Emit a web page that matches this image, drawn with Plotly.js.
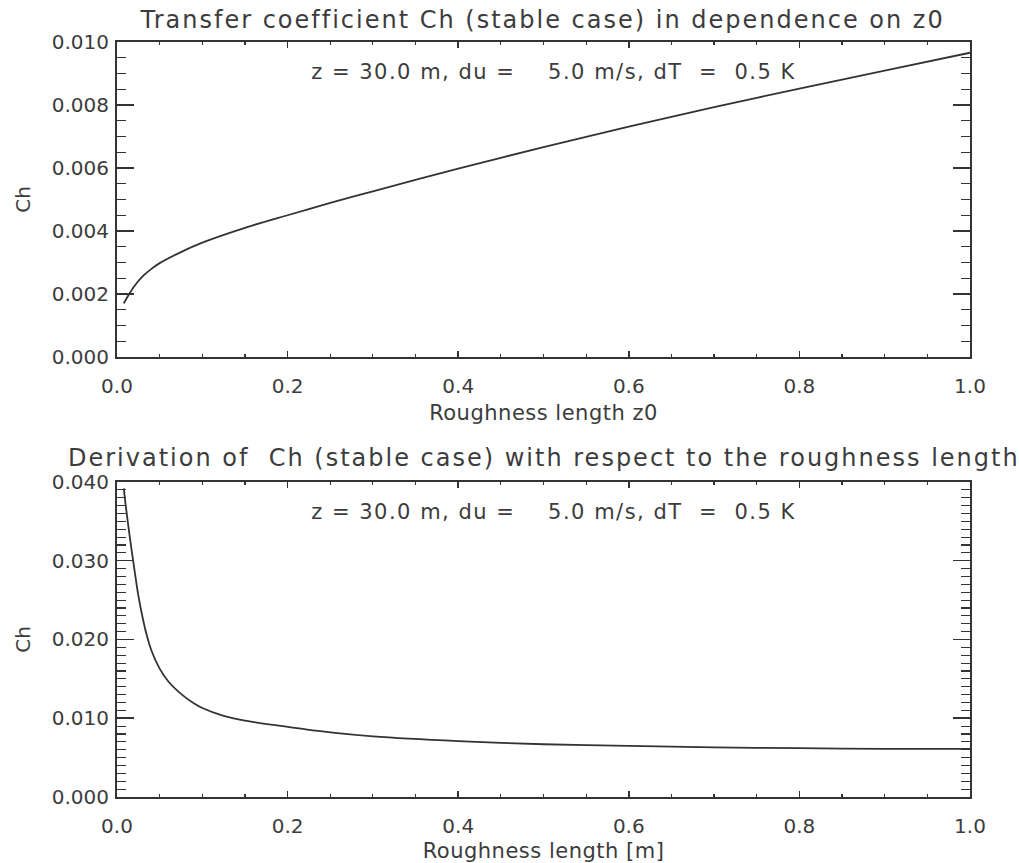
<!DOCTYPE html>
<html>
<head>
<meta charset="utf-8">
<script src="https://cdn.plot.ly/plotly-3.0.1.min.js"></script>
<style>
  html, body { margin: 0; padding: 0; background: #fff; }
  #chart { width: 1019px; height: 863px; }
  /* wide, evenly spaced lettering for the titles and the parameter lines */
  .gtitle { letter-spacing: 2px; }
  .annotation[data-index="0"] text { letter-spacing: 2px; }
  .annotation[data-index="1"] text,
  .annotation[data-index="2"] text { letter-spacing: 1.5px; }
  .xtitle, .x2title { letter-spacing: 0.5px; }
</style>
</head>
<body>
<div id="chart"></div>
<script>
// Transfer coefficient Ch against roughness length z0
const z0Top = [0.008, 0.01, 0.015, 0.02, 0.03, 0.04, 0.05, 0.075, 0.1, 0.15, 0.2, 0.25, 0.3, 0.4, 0.5, 0.6, 0.7, 0.8, 0.9, 1.0];
const chTop = [0.00170, 0.00180, 0.00203, 0.00224, 0.00256, 0.00279, 0.00298, 0.00333, 0.00363, 0.00410, 0.00450, 0.00489, 0.00526, 0.00598, 0.00666, 0.00731, 0.00793, 0.00852, 0.00909, 0.00966];

// Derivative of Ch with respect to the roughness length
const z0Bottom = [0.008, 0.01, 0.015, 0.02, 0.025, 0.03, 0.035, 0.04, 0.05, 0.06, 0.075, 0.09, 0.1, 0.125, 0.15, 0.2, 0.25, 0.3, 0.4, 0.5, 0.6, 0.7, 0.8, 0.9, 1.0];
const dchBottom = [0.0392, 0.0372, 0.0330, 0.0292, 0.0256, 0.0228, 0.0205, 0.0187, 0.0163, 0.0147, 0.0131, 0.0119, 0.0113, 0.0103, 0.0097, 0.0089, 0.0082, 0.0077, 0.0071, 0.0067, 0.0065, 0.0063, 0.0062, 0.0061, 0.0061];

const topTitle = 'Transfer coefficient Ch (stable case) in dependence on z0';
const bottomTitle = 'Derivation of \u00a0Ch (stable case) with respect to the roughness length';
const paramText = 'z = 30.0 m, du = \u00a0\u00a0\u00a05.0 m/s, dT \u00a0= \u00a00.5 K';
const xTitleTop = 'Roughness length z0';
const xTitleBottom = 'Roughness length [m]';
const yTitle = 'Ch';

const ink = '#333333';
const textInk = '#3c3c3c';
const fam = 'DejaVu Sans, Liberation Sans, sans-serif';

function xAxis(anchor, title) {
  return {
    anchor: anchor,
    domain: [0, 1],
    range: [0, 1],
    dtick: 0.2,
    tick0: 0,
    tickformat: '.1f',
    ticks: 'inside',
    ticklen: 6,
    tickwidth: 1.5,
    tickcolor: ink,
    minor: { dtick: 0.05, ticks: 'inside', ticklen: 3, tickwidth: 1.2, tickcolor: ink },
    showline: true,
    linewidth: 2,
    linecolor: ink,
    mirror: 'allticks',
    showgrid: false,
    zeroline: false,
    ticklabelstandoff: 10,
    tickfont: { family: fam, size: 20, color: textInk },
    title: { text: title, standoff: 8, font: { family: fam, size: 21, color: textInk } }
  };
}

function yAxis(anchor, domain, top, step, minorStep) {
  return {
    anchor: anchor,
    domain: domain,
    range: [0, top],
    dtick: step,
    tick0: 0,
    tickformat: '.3f',
    ticks: 'inside',
    ticklen: 17,
    tickwidth: 1.5,
    tickcolor: ink,
    minor: { dtick: minorStep, ticks: 'inside', ticklen: 9, tickwidth: 1.2, tickcolor: ink },
    showline: true,
    linewidth: 2,
    linecolor: ink,
    mirror: 'allticks',
    showgrid: false,
    zeroline: false,
    ticklabelstandoff: 2,
    tickfont: { family: fam, size: 20, color: textInk },
    title: { text: yTitle, standoff: 16, font: { family: fam, size: 20, color: textInk } }
  };
}

const traces = [
  {
    x: z0Top, y: chTop, xaxis: 'x', yaxis: 'y',
    mode: 'lines', line: { color: ink, width: 1.8, shape: 'spline', smoothing: 0.8 },
    showlegend: false, hoverinfo: 'skip'
  },
  {
    x: z0Bottom, y: dchBottom, xaxis: 'x2', yaxis: 'y2',
    mode: 'lines', line: { color: ink, width: 1.8, shape: 'spline', smoothing: 0.8 },
    showlegend: false, hoverinfo: 'skip'
  }
];

const layout = {
  width: 1019,
  height: 863,
  margin: { l: 117, r: 49, t: 42, b: 66 },
  paper_bgcolor: '#ffffff',
  plot_bgcolor: '#ffffff',
  font: { family: fam, color: textInk },
  title: {
    text: topTitle,
    font: { family: fam, size: 24, color: textInk },
    x: 0.5325, xanchor: 'center',
    y: 1 - 20 / 863, yanchor: 'middle', yref: 'container'
  },
  xaxis: xAxis('y', xTitleTop),
  yaxis: yAxis('x', [0.58278, 1], 0.010, 0.002, 0.0005),
  xaxis2: xAxis('y2', xTitleBottom),
  yaxis2: yAxis('x2', [0, 0.41722], 0.040, 0.010, 0.001),
  annotations: [
    {
      text: bottomTitle, xref: 'paper', yref: 'paper',
      x: 0.5, y: 0.41722, yshift: 24, xanchor: 'center', yanchor: 'middle',
      showarrow: false, font: { family: fam, size: 24, color: textInk }
    },
    {
      text: paramText, xref: 'paper', yref: 'paper',
      x: 0.512, y: 1, yshift: -30, xanchor: 'center', yanchor: 'middle',
      showarrow: false, font: { family: fam, size: 21, color: textInk }
    },
    {
      text: paramText, xref: 'paper', yref: 'paper',
      x: 0.512, y: 0.41722, yshift: -30, xanchor: 'center', yanchor: 'middle',
      showarrow: false, font: { family: fam, size: 21, color: textInk }
    }
  ]
};

Plotly.newPlot('chart', traces, layout, { staticPlot: true, displayModeBar: false });
</script>
</body>
</html>
